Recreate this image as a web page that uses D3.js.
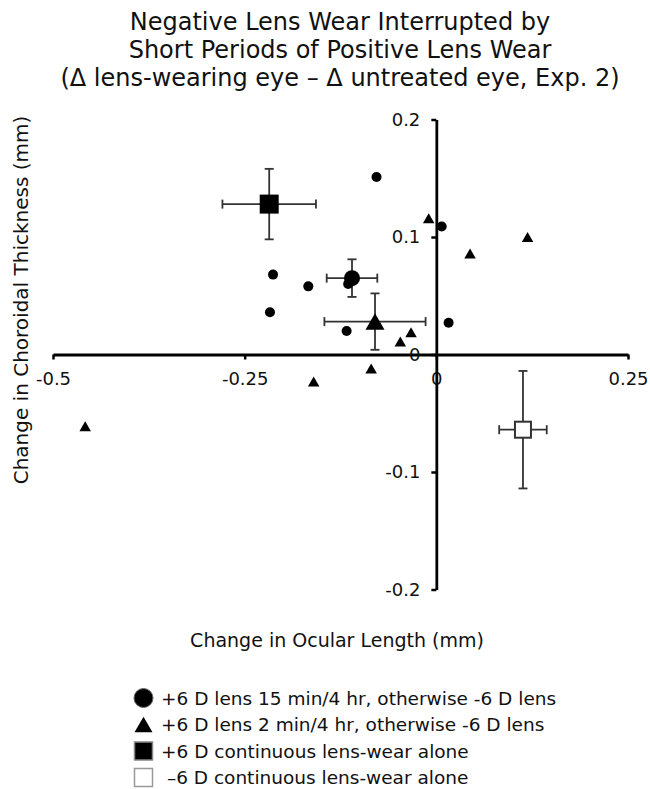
<!DOCTYPE html>
<html>
<head>
<meta charset="utf-8">
<script src="https://cdn.jsdelivr.net/npm/d3@7"></script>
<style>
  body { margin: 0; background: #fff; }
  text { font-family: "DejaVu Sans", sans-serif; fill: #111; }
</style>
</head>
<body>
<script>
// chart data (mm)
var circleX = [-0.078, 0.007, -0.213, -0.167, -0.115, -0.217, -0.117, 0.016];
var circleY = [0.151, 0.109, 0.068, 0.058, 0.060, 0.036, 0.020, 0.027];
var triX = [-0.010, 0.044, 0.119, -0.033, -0.047, -0.085, -0.160, -0.458];
var triY = [0.116, 0.086, 0.100, 0.019, 0.011, -0.012, -0.023, -0.061];

// group means with error bars: [x, y, xErr, yErr]
var meanCircle = [-0.110, 0.065, 0.033, 0.016];
var meanTri = [-0.080, 0.028, 0.066, 0.024];
var plusSquare = [-0.218, 0.128, 0.061, 0.030];
var minusSquare = [0.113, -0.064, 0.031, 0.050];

var xTicks = [-0.5, -0.25, 0, 0.25];
var yTicks = [-0.2, -0.1, 0, 0.1, 0.2];

var titleLines = ["Negative Lens Wear Interrupted by",
                  "Short Periods of Positive Lens Wear",
                  "(\u0394 lens-wearing eye \u2013 \u0394 untreated eye, Exp. 2)"];
var legendLabels = ["+6 D lens 15 min/4 hr, otherwise -6 D lens",
                    "+6 D lens 2 min/4 hr, otherwise -6 D lens",
                    "+6 D continuous lens-wear alone",
                    " \u20136 D continuous lens-wear alone"];

var w = 650, h = 789;

var svg = d3.select("body").append("svg")
  .attr("width", w)
  .attr("height", h);

var x = d3.scaleLinear().domain([-0.5, 0.25]).range([53, 628]);
var y = d3.scaleLinear().domain([-0.2, 0.2]).range([589.5, 119.5]);

// title
svg.append("g").selectAll("text")
  .data(titleLines)
  .enter().append("text")
  .attr("x", 340)
  .attr("y", function(d, i) { return 30 + i * 28; })
  .attr("text-anchor", "middle")
  .style("font-size", "24px")
  .text(function(d) { return d; });

// axes crossing at the origin
var fmt = function(d) { return String(d); };

var xAxis = svg.append("g")
  .attr("transform", "translate(0," + y(0) + ")")
  .call(d3.axisBottom(x).tickValues(xTicks).tickFormat(fmt).tickSize(5).tickSizeOuter(0).tickPadding(13));

var yAxis = svg.append("g")
  .attr("transform", "translate(" + x(0) + ",0)")
  .call(d3.axisLeft(y).tickValues(yTicks).tickFormat(fmt).tickSize(5).tickSizeOuter(0).tickPadding(11));

[xAxis, yAxis].forEach(function(a) {
  a.select(".domain").attr("stroke", "#000").attr("stroke-width", 2.8);
  a.selectAll(".tick line").attr("stroke", "#000").attr("stroke-width", 2.5);
  a.selectAll(".tick text").style("font-size", "18px").attr("fill", "#111")
    .style("font-family", "'DejaVu Sans', sans-serif");
});

// axis labels
svg.append("text")
  .attr("x", 337)
  .attr("y", 647)
  .attr("text-anchor", "middle")
  .style("font-size", "19px")
  .text("Change in Ocular Length (mm)");

svg.append("text")
  .attr("transform", "translate(28,300) rotate(-90)")
  .attr("text-anchor", "middle")
  .style("font-size", "20px")
  .text("Change in Choroidal Thickness (mm)");

// error bars
function errorBars(m) {
  var g = svg.append("g").attr("stroke", "#333").attr("stroke-width", 1.8).attr("fill", "none");
  var cx = x(m[0]), cy = y(m[1]);
  var x0 = x(m[0] - m[2]), x1 = x(m[0] + m[2]);
  var y0 = y(m[1] - m[3]), y1 = y(m[1] + m[3]);
  var cap = 4.5;
  g.append("line").attr("x1", x0).attr("x2", x1).attr("y1", cy).attr("y2", cy);
  g.append("line").attr("x1", cx).attr("x2", cx).attr("y1", y0).attr("y2", y1);
  g.append("line").attr("x1", x0).attr("x2", x0).attr("y1", cy - cap).attr("y2", cy + cap);
  g.append("line").attr("x1", x1).attr("x2", x1).attr("y1", cy - cap).attr("y2", cy + cap);
  g.append("line").attr("x1", cx - cap).attr("x2", cx + cap).attr("y1", y0).attr("y2", y0);
  g.append("line").attr("x1", cx - cap).attr("x2", cx + cap).attr("y1", y1).attr("y2", y1);
}

[meanCircle, meanTri, plusSquare, minusSquare].forEach(errorBars);

// triangle helper: side s, centred on its bounding box
function triPath(s) {
  var hgt = s * Math.sqrt(3) / 2;
  return "M0," + (-hgt / 2) + "L" + (s / 2) + "," + (hgt / 2) + "L" + (-s / 2) + "," + (hgt / 2) + "Z";
}

// individual animals
svg.append("g").selectAll("circle")
  .data(d3.range(circleX.length))
  .enter().append("circle")
  .attr("cx", function(i) { return x(circleX[i]); })
  .attr("cy", function(i) { return y(circleY[i]); })
  .attr("r", 5)
  .attr("fill", "#000");

svg.append("g").selectAll("path")
  .data(d3.range(triX.length))
  .enter().append("path")
  .attr("d", triPath(11.5))
  .attr("transform", function(i) { return "translate(" + x(triX[i]) + "," + y(triY[i]) + ")"; })
  .attr("fill", "#000");

// means
svg.append("circle")
  .attr("cx", x(meanCircle[0])).attr("cy", y(meanCircle[1]))
  .attr("r", 8).attr("fill", "#000");

svg.append("path")
  .attr("d", triPath(19))
  .attr("transform", "translate(" + x(meanTri[0]) + "," + y(meanTri[1]) + ")")
  .attr("fill", "#000");

svg.append("rect")
  .attr("x", x(plusSquare[0]) - 9.5).attr("y", y(plusSquare[1]) - 9.5)
  .attr("width", 19).attr("height", 19)
  .attr("fill", "#000");

svg.append("rect")
  .attr("x", x(minusSquare[0]) - 8).attr("y", y(minusSquare[1]) - 8)
  .attr("width", 16).attr("height", 16)
  .attr("fill", "#fff").attr("stroke", "#333").attr("stroke-width", 2);

// legend
var legend = svg.append("g");
var lx = 143.5, ly0 = 698, lstep = 26.5;

legend.append("circle").attr("cx", lx).attr("cy", ly0).attr("r", 9.5)
  .attr("fill", "#000").attr("stroke", "#666").attr("stroke-width", 1);
legend.append("path").attr("d", triPath(18))
  .attr("transform", "translate(" + lx + "," + (ly0 + lstep) + ")").attr("fill", "#000");
legend.append("rect").attr("x", lx - 9).attr("y", ly0 + 2 * lstep - 9).attr("width", 18).attr("height", 18)
  .attr("fill", "#000").attr("stroke", "#888").attr("stroke-width", 1.5);
legend.append("rect").attr("x", lx - 9).attr("y", ly0 + 3 * lstep - 9).attr("width", 18).attr("height", 18)
  .attr("fill", "#fff").attr("stroke", "#999").attr("stroke-width", 1.5);

legend.selectAll("text")
  .data(legendLabels)
  .enter().append("text")
  .attr("x", 161)
  .attr("y", function(d, i) { return ly0 + i * lstep; })
  .attr("dy", "0.36em")
  .style("font-size", "18.5px")
  .attr("xml:space", "preserve")
  .text(function(d) { return d; });
</script>
</body>
</html>
